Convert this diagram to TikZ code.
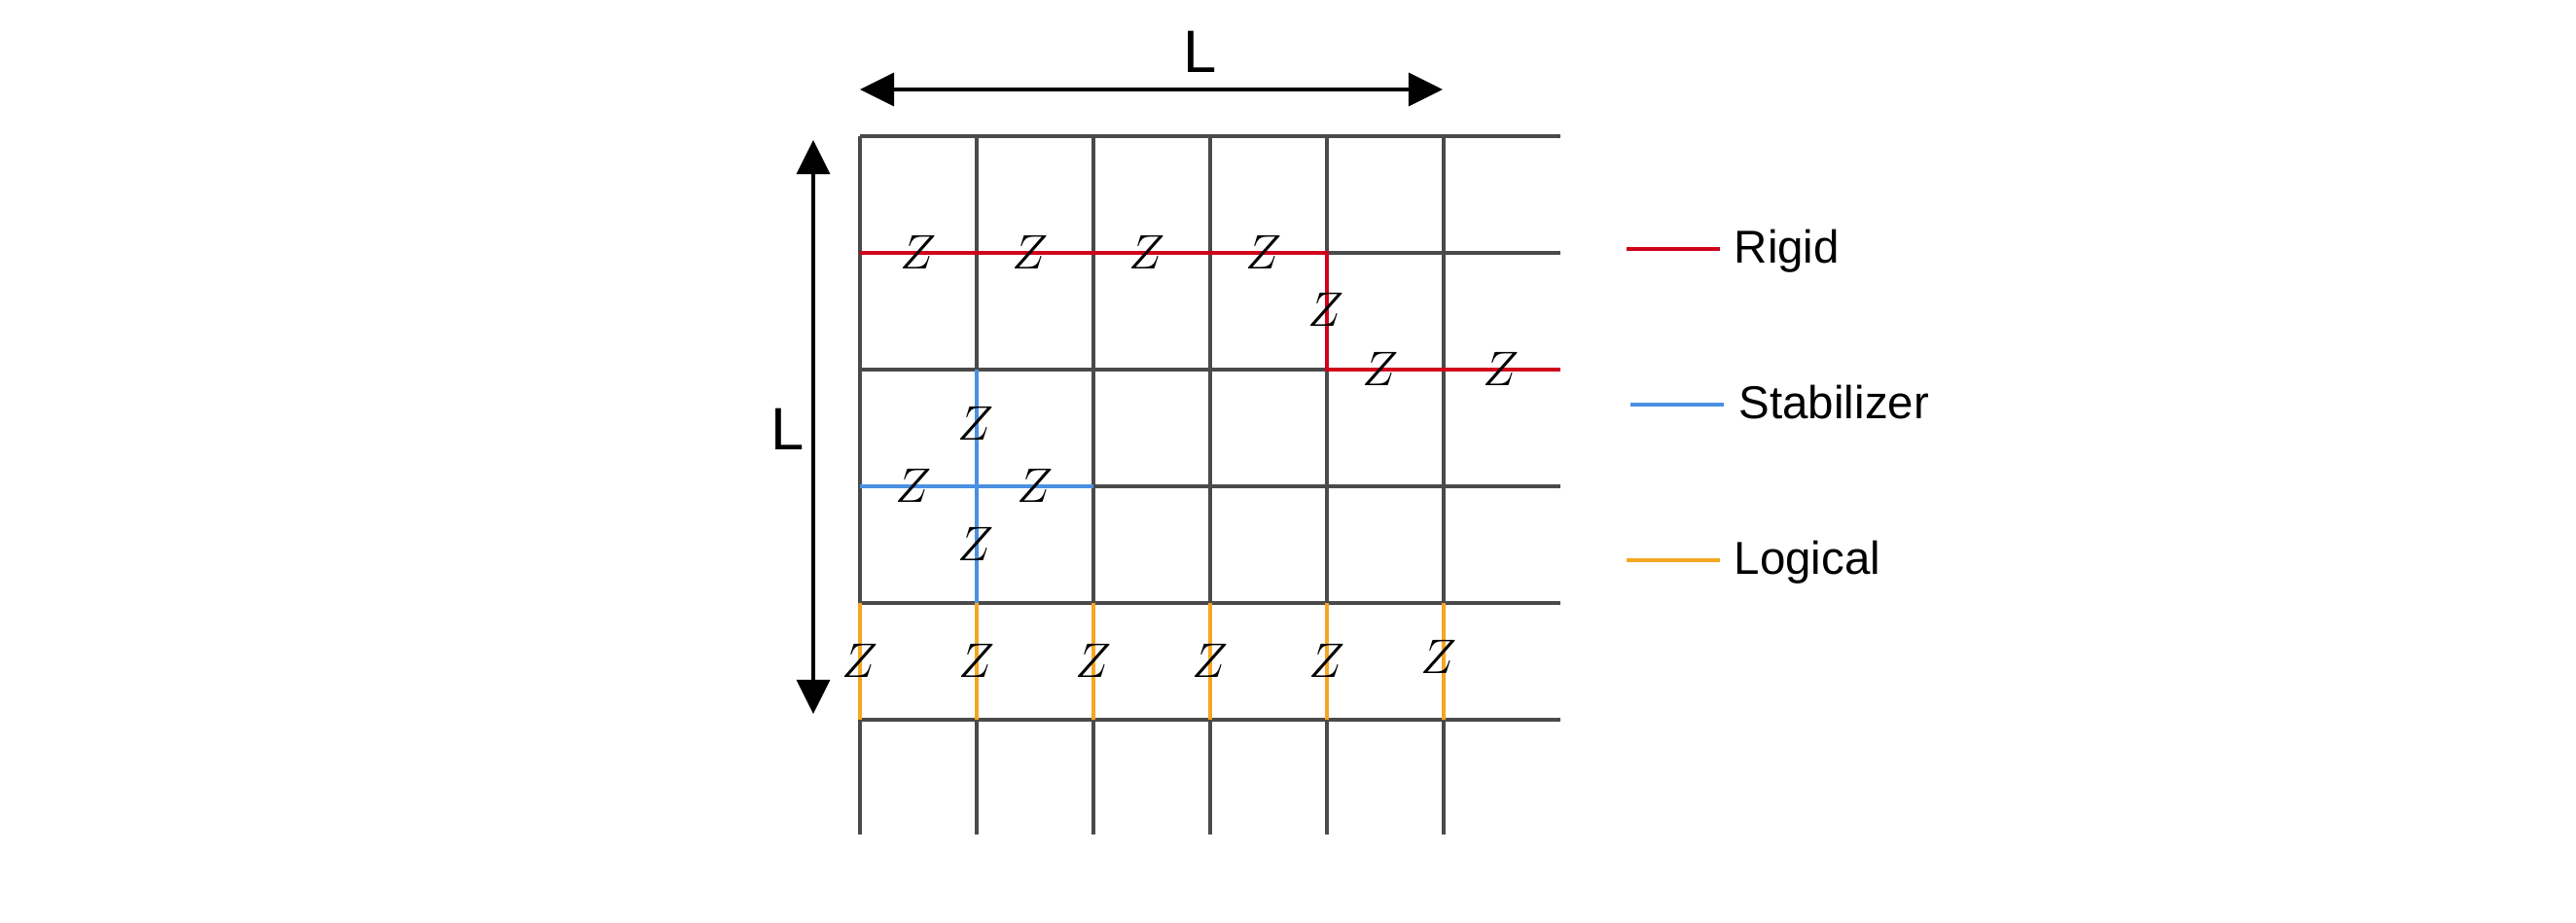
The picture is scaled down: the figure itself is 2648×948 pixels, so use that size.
\RequirePackage{fix-cm}
\documentclass[tikz,border=0pt]{standalone}
\usepackage{fontspec}
\newfontfamily\legendfont{Liberation Sans}
\usetikzlibrary{arrows.meta}
\definecolor{gridgrey}{HTML}{4A4A4A}
\definecolor{rigidred}{HTML}{D0021B}
\definecolor{stabblue}{HTML}{4A90E2}
\definecolor{logorange}{HTML}{F5A623}
\tikzset{
  gridline/.style={draw=gridgrey, line width=0.95pt},
  rigidline/.style={draw=rigidred, line width=1.1pt},
  stabline/.style={draw=stabblue, line width=1.05pt},
  logline/.style={draw=logorange, line width=1.05pt},
  zlab/.style={inner sep=0pt, font=\fontsize{14.2}{17}\selectfont},
  legtext/.style={inner sep=0pt, anchor=base west, font=\legendfont\fontsize{13.5}{16}\selectfont},
  dimtext/.style={inner sep=0pt, anchor=base west, font=\legendfont\fontsize{17.5}{20}\selectfont},
  dimarrow/.style={line width=1pt, {Triangle[length=0.35cm,width=0.34cm]}-{Triangle[length=0.35cm,width=0.34cm]}}
}
\begin{document}
\begin{tikzpicture}[x=0.01cm,y=-0.01cm]
\useasboundingbox (0,0) rectangle (2648,948);
% grid
\foreach \k in {0,...,5} {
  \draw[gridline] (884+120*\k,140) -- (884+120*\k,858);
}
\foreach \j in {0,...,5} {
  \draw[gridline] (884,140+120*\j) -- (1604,140+120*\j);
}
% rigid (red)
\draw[rigidline] (884,260) -- (1364,260) -- (1364,380) -- (1604,380);
% stabilizer (blue)
\draw[stabline] (1004,380) -- (1004,620);
\draw[stabline] (884,500) -- (1124,500);
% logical (orange)
\foreach \k in {0,...,5} {
  \draw[logline] (884+120*\k,620) -- (884+120*\k,740);
}
% Z labels
\node[zlab] (r1) at (944,259) {$Z$};
\node[zlab] (r2) at (1059,259) {$Z$};
\node[zlab] (r3) at (1179,259) {$Z$};
\node[zlab] (r4) at (1299,259) {$Z$};
\node[zlab] (r5) at (1363,318) {$Z$};
\node[zlab] (r6) at (1419,379) {$Z$};
\node[zlab] (r7) at (1543,379) {$Z$};
\node[zlab] (s1) at (1003,435) {$Z$};
\node[zlab] (s2) at (939,499) {$Z$};
\node[zlab] (s3) at (1064,499) {$Z$};
\node[zlab] (s4) at (1003,559) {$Z$};
\node[zlab] (l1) at (884,679) {$Z$};
\node[zlab] (l2) at (1004,679) {$Z$};
\node[zlab] (l3) at (1124,679) {$Z$};
\node[zlab] (l4) at (1244,679) {$Z$};
\node[zlab] (l5) at (1364,679) {$Z$};
\node[zlab] (l6) at (1479,675) {$Z$};
% dimension arrows
\coordinate (hl) at (884,92);
\coordinate (hr) at (1483,92);
\coordinate (vt) at (836,144);
\coordinate (vb) at (836,734);
\draw[dimarrow] (hl) -- (hr);
\draw[dimarrow] (vt) -- (vb);
\node[dimtext] (Ltop) at (1215.5,74) {L};
\node[dimtext] (Lleft) at (791.5,462) {L};
% legend
\coordinate (ra) at (1672,256);
\coordinate (rb) at (1768,256);
\coordinate (sa) at (1676,416);
\coordinate (sb) at (1772,416);
\coordinate (la) at (1672,576);
\coordinate (lb) at (1768,576);
\draw[rigidline] (ra) -- (rb);
\draw[stabline] (sa) -- (sb);
\draw[logline] (la) -- (lb);
\node[legtext] (trig) at (1782,270) {Rigid};
\node[legtext] (tstab) at (1787,430) {Stabilizer};
\node[legtext] (tlog) at (1782,590) {Logical};
\end{tikzpicture}
\end{document}
